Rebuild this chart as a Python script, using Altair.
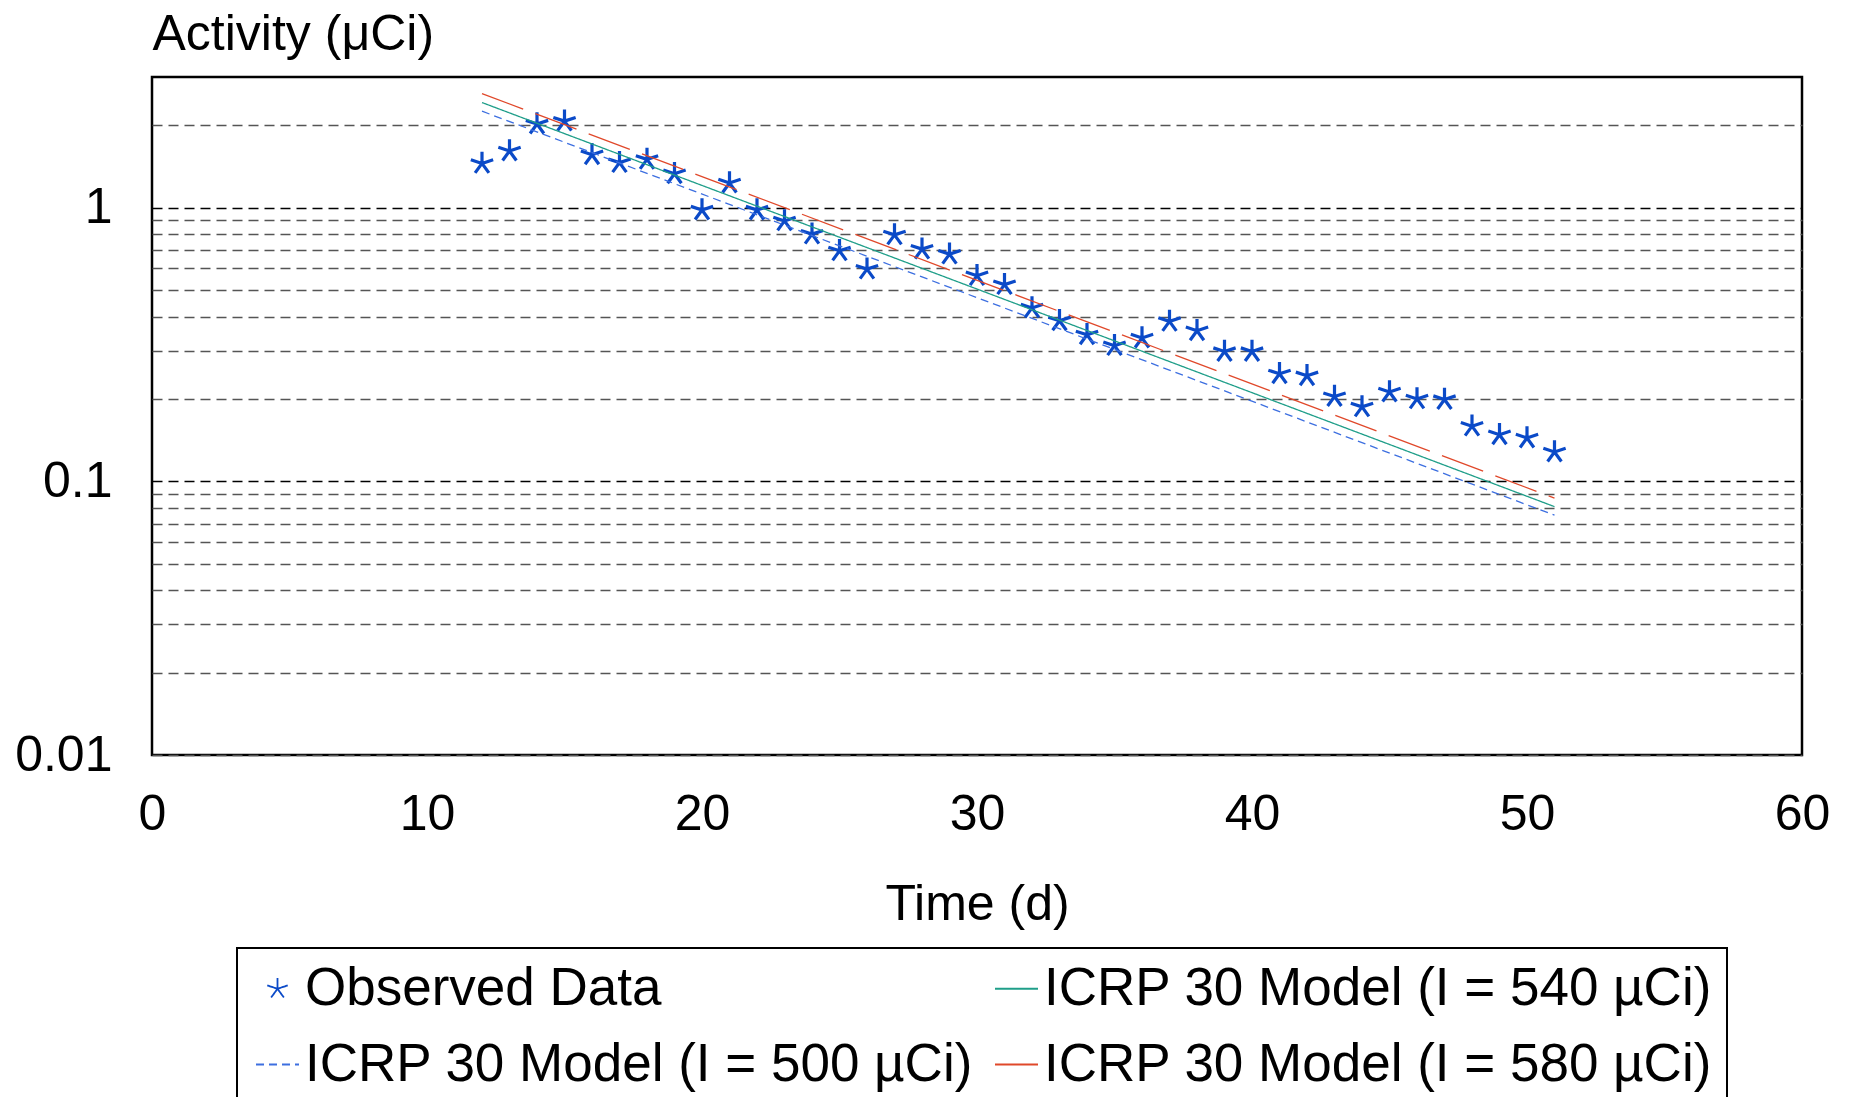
import altair as alt
import pandas as pd

# ---------------- data ----------------
obs_days = list(range(12, 52))
obs_activity = [1.45, 1.61, 2.02, 2.07, 1.56, 1.46, 1.50, 1.33, 0.98, 1.23,
                0.98, 0.894, 0.80, 0.695, 0.596, 0.795, 0.705, 0.676, 0.564, 0.523,
                0.430, 0.386, 0.343, 0.313, 0.334, 0.384, 0.355, 0.298, 0.298, 0.247,
                0.243, 0.204, 0.187, 0.212, 0.200, 0.199, 0.159, 0.148, 0.144, 0.128]

model_days = [12, 51]
model_500 = [2.25, 0.0752]
model_540 = [2.42, 0.0808]
model_580 = [2.61, 0.0868]

S_OBS = "Observed Data"
S500 = "ICRP 30 Model (I = 500 µCi)"
S540 = "ICRP 30 Model (I = 540 µCi)"
S580 = "ICRP 30 Model (I = 580 µCi)"

series_order = [S_OBS, S500, S540, S580]
series_colors = ["#0b4ac8", "#3d6fe0", "#1f9e89", "#e0482a"]
series_dash = [[1, 0], [8, 5], [1, 0], [44, 13]]

y_grid_values = [0.01, 0.02, 0.03, 0.04, 0.05, 0.06, 0.07, 0.08, 0.09,
                 0.1, 0.2, 0.3, 0.4, 0.5, 0.6, 0.7, 0.8, 0.9, 1, 2]
x_tick_values = [0, 10, 20, 30, 40, 50, 60]

STAR = ("M0,0L0,-0.5M0,0L0.476,-0.155M0,0L0.294,0.405"
        "M0,0L-0.294,0.405M0,0L-0.476,-0.155")
series_shapes = [STAR, "stroke", "stroke", "stroke"]

obs_df = pd.DataFrame({"day": obs_days, "activity": obs_activity, "series": S_OBS})
model_df = pd.concat([
    pd.DataFrame({"day": model_days, "activity": model_500, "series": S500}),
    pd.DataFrame({"day": model_days, "activity": model_540, "series": S540}),
    pd.DataFrame({"day": model_days, "activity": model_580, "series": S580}),
])

FONT = "Liberation Sans"

x_enc = alt.X(
    "day:Q",
    scale=alt.Scale(domain=[0, 60], nice=False, zero=False),
    axis=alt.Axis(
        values=x_tick_values, grid=False, ticks=False, domain=False,
        labelFontSize=50, labelPadding=34, labelFlush=False, labelOverlap=False,
        labelColor="black", labelFont=FONT,
        title="Time (d)", titleFontSize=50, titleFontWeight="normal", titleFont=FONT,
        titleColor="black", titleBaseline="alphabetic", titleY=164,
    ),
)
y_enc = alt.Y(
    "activity:Q",
    scale=alt.Scale(type="log", domain=[0.01, 3], nice=False),
    axis=alt.Axis(
        values=y_grid_values, grid=True, ticks=False, domain=False,
        gridDash=[10, 6], gridWidth=1.3,
        gridColor={"condition": {"test": "datum.value == 1 || datum.value == 0.1",
                                 "value": "#000000"}, "value": "#555555"},
        labelExpr="datum.value == 1 ? '1' : datum.value == 0.1 ? '0.1' : datum.value == 0.01 ? '0.01' : ''",
        labelFontSize=50, labelPadding=40, labelColor="black", labelFont=FONT,
        labelOverlap=False,
        title="Activity (μCi)", titleFontSize=50, titleFontWeight="normal", titleFont=FONT,
        titleColor="black", titleAngle=0, titleAlign="left", titleBaseline="alphabetic",
        titleX=0, titleY=-28,
    ),
)

color_enc = alt.Color(
    "series:N",
    scale=alt.Scale(domain=series_order, range=series_colors),
    legend=alt.Legend(
        title=None, orient="none", legendX=85, legendY=871, columns=2,
        symbolSize=1849, symbolStrokeWidth=1.8, labelFontSize=53, labelFont=FONT,
        labelColor="black", labelOffset=1, columnPadding=16, rowPadding=22,
        padding=14, strokeColor="black", labelLimit=0,
    ),
)

points = alt.Chart(obs_df).mark_point(filled=False, strokeWidth=3.2, size=2200, opacity=1).encode(
    x=x_enc, y=y_enc, color=color_enc,
    shape=alt.Shape("series:N", scale=alt.Scale(domain=series_order, range=series_shapes)),
)

lines = alt.Chart(model_df).mark_line(strokeWidth=1.3).encode(
    x=x_enc, y=y_enc, color=color_enc,
    strokeDash=alt.StrokeDash("series:N", scale=alt.Scale(domain=series_order, range=series_dash)),
    detail="series:N",
)

chart = alt.layer(points, lines).properties(
    width=1650, height=678,
    autosize=alt.AutoSizeParams(type="none"),
    padding={"left": 144, "top": 69, "right": 40, "bottom": 342},
    background="white",
).configure_view(
    stroke="black", strokeWidth=2.5,
).configure_legend(
    strokeWidth=2,
)

chart.save("out.html", embed_options={"renderer": "svg", "actions": False})
